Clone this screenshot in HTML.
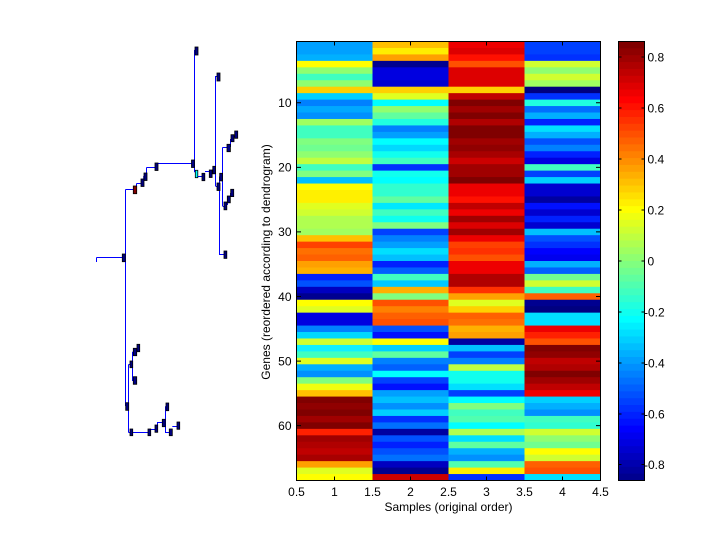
<!DOCTYPE html>
<html><head><meta charset="utf-8"><style>
html,body{margin:0;padding:0;background:#fff;}
svg{display:block;}
text{font-family:"Liberation Sans",Arial,sans-serif;font-size:12px;fill:#000;}
</style></head><body>
<svg width="720" height="540" viewBox="0 0 720 540" xmlns="http://www.w3.org/2000/svg">
<rect width="720" height="540" fill="#fff"/>

<!-- Heatmap -->
<svg x="296.5" y="41.5" width="304" height="439" viewBox="0 0 4 68" preserveAspectRatio="none">
<g id="c1">
<rect x="0" y="0" width="1.1" height="1.1" fill="#00a0ff"/>
<rect x="0" y="1" width="1.1" height="1.1" fill="#00a0ff"/>
<rect x="0" y="2" width="1.1" height="1.1" fill="#00b0ff"/>
<rect x="0" y="3" width="1.1" height="1.1" fill="#ffff00"/>
<rect x="0" y="4" width="1.1" height="1.1" fill="#90ff70"/>
<rect x="0" y="5" width="1.1" height="1.1" fill="#40ffc0"/>
<rect x="0" y="6" width="1.1" height="1.1" fill="#90ff70"/>
<rect x="0" y="7" width="1.1" height="1.1" fill="#ffd000"/>
<rect x="0" y="8" width="1.1" height="1.1" fill="#00d0ff"/>
<rect x="0" y="9" width="1.1" height="1.1" fill="#0080ff"/>
<rect x="0" y="10" width="1.1" height="1.1" fill="#00a8ff"/>
<rect x="0" y="11" width="1.1" height="1.1" fill="#0090ff"/>
<rect x="0" y="12" width="1.1" height="1.1" fill="#a0ff60"/>
<rect x="0" y="13" width="1.1" height="1.1" fill="#40ffc0"/>
<rect x="0" y="14" width="1.1" height="1.1" fill="#40ffc0"/>
<rect x="0" y="15" width="1.1" height="1.1" fill="#80ff80"/>
<rect x="0" y="16" width="1.1" height="1.1" fill="#70ff90"/>
<rect x="0" y="17" width="1.1" height="1.1" fill="#90ff70"/>
<rect x="0" y="18" width="1.1" height="1.1" fill="#c0ff40"/>
<rect x="0" y="19" width="1.1" height="1.1" fill="#40ffc0"/>
<rect x="0" y="20" width="1.1" height="1.1" fill="#80ff80"/>
<rect x="0" y="21" width="1.1" height="1.1" fill="#00c0ff"/>
<rect x="0" y="22" width="1.1" height="1.1" fill="#ffff00"/>
<rect x="0" y="23" width="1.1" height="1.1" fill="#fff000"/>
<rect x="0" y="24" width="1.1" height="1.1" fill="#fff000"/>
<rect x="0" y="25" width="1.1" height="1.1" fill="#e0ff20"/>
<rect x="0" y="26" width="1.1" height="1.1" fill="#d0ff30"/>
<rect x="0" y="27" width="1.1" height="1.1" fill="#b0ff50"/>
<rect x="0" y="28" width="1.1" height="1.1" fill="#b0ff50"/>
<rect x="0" y="29" width="1.1" height="1.1" fill="#a0ff60"/>
<rect x="0" y="30" width="1.1" height="1.1" fill="#ffc000"/>
<rect x="0" y="31" width="1.1" height="1.1" fill="#ff4000"/>
<rect x="0" y="32" width="1.1" height="1.1" fill="#ff7000"/>
<rect x="0" y="33" width="1.1" height="1.1" fill="#ff6000"/>
<rect x="0" y="34" width="1.1" height="1.1" fill="#ffa000"/>
<rect x="0" y="35" width="1.1" height="1.1" fill="#ffb000"/>
<rect x="0" y="36" width="1.1" height="1.1" fill="#0020ff"/>
<rect x="0" y="37" width="1.1" height="1.1" fill="#0050ff"/>
<rect x="0" y="38" width="1.1" height="1.1" fill="#0000c0"/>
<rect x="0" y="39" width="1.1" height="1.1" fill="#000090"/>
<rect x="0" y="40" width="1.1" height="1.1" fill="#ffff00"/>
<rect x="0" y="41" width="1.1" height="1.1" fill="#e0ff20"/>
<rect x="0" y="42" width="1.1" height="1.1" fill="#0000e0"/>
<rect x="0" y="43" width="1.1" height="1.1" fill="#0000e0"/>
<rect x="0" y="44" width="1.1" height="1.1" fill="#0080ff"/>
<rect x="0" y="45" width="1.1" height="1.1" fill="#00d8ff"/>
<rect x="0" y="46" width="1.1" height="1.1" fill="#d0ff30"/>
<rect x="0" y="47" width="1.1" height="1.1" fill="#10f0ff"/>
<rect x="0" y="48" width="1.1" height="1.1" fill="#40ffc0"/>
<rect x="0" y="49" width="1.1" height="1.1" fill="#e0ff20"/>
<rect x="0" y="50" width="1.1" height="1.1" fill="#00b0ff"/>
<rect x="0" y="51" width="1.1" height="1.1" fill="#0090ff"/>
<rect x="0" y="52" width="1.1" height="1.1" fill="#80ff80"/>
<rect x="0" y="53" width="1.1" height="1.1" fill="#f0ff10"/>
<rect x="0" y="54" width="1.1" height="1.1" fill="#ffc000"/>
<rect x="0" y="55" width="1.1" height="1.1" fill="#800000"/>
<rect x="0" y="56" width="1.1" height="1.1" fill="#900000"/>
<rect x="0" y="57" width="1.1" height="1.1" fill="#800000"/>
<rect x="0" y="58" width="1.1" height="1.1" fill="#a00000"/>
<rect x="0" y="59" width="1.1" height="1.1" fill="#800000"/>
<rect x="0" y="60" width="1.1" height="1.1" fill="#ff2000"/>
<rect x="0" y="61" width="1.1" height="1.1" fill="#a00000"/>
<rect x="0" y="62" width="1.1" height="1.1" fill="#b00000"/>
<rect x="0" y="63" width="1.1" height="1.1" fill="#c00000"/>
<rect x="0" y="64" width="1.1" height="1.1" fill="#a80000"/>
<rect x="0" y="65" width="1.1" height="1.1" fill="#ffa000"/>
<rect x="0" y="66" width="1.1" height="1.1" fill="#e0ff20"/>
<rect x="0" y="67" width="1.1" height="1.1" fill="#ffff00"/>
</g>
<g id="c2">
<rect x="1" y="0" width="1.1" height="1.1" fill="#ffc000"/>
<rect x="1" y="1" width="1.1" height="1.1" fill="#ffee00"/>
<rect x="1" y="2" width="1.1" height="1.1" fill="#ffa000"/>
<rect x="1" y="3" width="1.1" height="1.1" fill="#000090"/>
<rect x="1" y="4" width="1.1" height="1.1" fill="#0000e0"/>
<rect x="1" y="5" width="1.1" height="1.1" fill="#0000e0"/>
<rect x="1" y="6" width="1.1" height="1.1" fill="#0000d0"/>
<rect x="1" y="7" width="1.1" height="1.1" fill="#ffd000"/>
<rect x="1" y="8" width="1.1" height="1.1" fill="#e0ff20"/>
<rect x="1" y="9" width="1.1" height="1.1" fill="#00ffff"/>
<rect x="1" y="10" width="1.1" height="1.1" fill="#90ff70"/>
<rect x="1" y="11" width="1.1" height="1.1" fill="#60ffa0"/>
<rect x="1" y="12" width="1.1" height="1.1" fill="#20ffe0"/>
<rect x="1" y="13" width="1.1" height="1.1" fill="#0080ff"/>
<rect x="1" y="14" width="1.1" height="1.1" fill="#00a0ff"/>
<rect x="1" y="15" width="1.1" height="1.1" fill="#00ffff"/>
<rect x="1" y="16" width="1.1" height="1.1" fill="#00d8ff"/>
<rect x="1" y="17" width="1.1" height="1.1" fill="#10ffee"/>
<rect x="1" y="18" width="1.1" height="1.1" fill="#40ffc0"/>
<rect x="1" y="19" width="1.1" height="1.1" fill="#0030ff"/>
<rect x="1" y="20" width="1.1" height="1.1" fill="#10ffee"/>
<rect x="1" y="21" width="1.1" height="1.1" fill="#00ffff"/>
<rect x="1" y="22" width="1.1" height="1.1" fill="#30ffd0"/>
<rect x="1" y="23" width="1.1" height="1.1" fill="#30ffd0"/>
<rect x="1" y="24" width="1.1" height="1.1" fill="#60ffa0"/>
<rect x="1" y="25" width="1.1" height="1.1" fill="#00e8ff"/>
<rect x="1" y="26" width="1.1" height="1.1" fill="#40ffc0"/>
<rect x="1" y="27" width="1.1" height="1.1" fill="#10ffee"/>
<rect x="1" y="28" width="1.1" height="1.1" fill="#80ff80"/>
<rect x="1" y="29" width="1.1" height="1.1" fill="#0040ff"/>
<rect x="1" y="30" width="1.1" height="1.1" fill="#0080ff"/>
<rect x="1" y="31" width="1.1" height="1.1" fill="#00a0ff"/>
<rect x="1" y="32" width="1.1" height="1.1" fill="#00e0ff"/>
<rect x="1" y="33" width="1.1" height="1.1" fill="#00c0ff"/>
<rect x="1" y="34" width="1.1" height="1.1" fill="#0020ff"/>
<rect x="1" y="35" width="1.1" height="1.1" fill="#0060ff"/>
<rect x="1" y="36" width="1.1" height="1.1" fill="#40ffc0"/>
<rect x="1" y="37" width="1.1" height="1.1" fill="#00c8ff"/>
<rect x="1" y="38" width="1.1" height="1.1" fill="#ffb000"/>
<rect x="1" y="39" width="1.1" height="1.1" fill="#80ff80"/>
<rect x="1" y="40" width="1.1" height="1.1" fill="#ff5000"/>
<rect x="1" y="41" width="1.1" height="1.1" fill="#ff8000"/>
<rect x="1" y="42" width="1.1" height="1.1" fill="#ff6000"/>
<rect x="1" y="43" width="1.1" height="1.1" fill="#ff5000"/>
<rect x="1" y="44" width="1.1" height="1.1" fill="#0050ff"/>
<rect x="1" y="45" width="1.1" height="1.1" fill="#0010ff"/>
<rect x="1" y="46" width="1.1" height="1.1" fill="#ffff00"/>
<rect x="1" y="47" width="1.1" height="1.1" fill="#00d0ff"/>
<rect x="1" y="48" width="1.1" height="1.1" fill="#60ffa0"/>
<rect x="1" y="49" width="1.1" height="1.1" fill="#0080ff"/>
<rect x="1" y="50" width="1.1" height="1.1" fill="#0060ff"/>
<rect x="1" y="51" width="1.1" height="1.1" fill="#00ffff"/>
<rect x="1" y="52" width="1.1" height="1.1" fill="#0040ff"/>
<rect x="1" y="53" width="1.1" height="1.1" fill="#0010ff"/>
<rect x="1" y="54" width="1.1" height="1.1" fill="#00a0ff"/>
<rect x="1" y="55" width="1.1" height="1.1" fill="#00c0ff"/>
<rect x="1" y="56" width="1.1" height="1.1" fill="#0090ff"/>
<rect x="1" y="57" width="1.1" height="1.1" fill="#00d0ff"/>
<rect x="1" y="58" width="1.1" height="1.1" fill="#0030ff"/>
<rect x="1" y="59" width="1.1" height="1.1" fill="#0070ff"/>
<rect x="1" y="60" width="1.1" height="1.1" fill="#0000a0"/>
<rect x="1" y="61" width="1.1" height="1.1" fill="#0050ff"/>
<rect x="1" y="62" width="1.1" height="1.1" fill="#0020ff"/>
<rect x="1" y="63" width="1.1" height="1.1" fill="#0050ff"/>
<rect x="1" y="64" width="1.1" height="1.1" fill="#0070ff"/>
<rect x="1" y="65" width="1.1" height="1.1" fill="#0000c0"/>
<rect x="1" y="66" width="1.1" height="1.1" fill="#000090"/>
<rect x="1" y="67" width="1.1" height="1.1" fill="#cc0000"/>
</g>
<g id="c3">
<rect x="2" y="0" width="1.1" height="1.1" fill="#ee0000"/>
<rect x="2" y="1" width="1.1" height="1.1" fill="#dd0000"/>
<rect x="2" y="2" width="1.1" height="1.1" fill="#ff1000"/>
<rect x="2" y="3" width="1.1" height="1.1" fill="#ff5000"/>
<rect x="2" y="4" width="1.1" height="1.1" fill="#dd0000"/>
<rect x="2" y="5" width="1.1" height="1.1" fill="#dd0000"/>
<rect x="2" y="6" width="1.1" height="1.1" fill="#dd0000"/>
<rect x="2" y="7" width="1.1" height="1.1" fill="#ffd000"/>
<rect x="2" y="8" width="1.1" height="1.1" fill="#c00000"/>
<rect x="2" y="9" width="1.1" height="1.1" fill="#800000"/>
<rect x="2" y="10" width="1.1" height="1.1" fill="#a00000"/>
<rect x="2" y="11" width="1.1" height="1.1" fill="#800000"/>
<rect x="2" y="12" width="1.1" height="1.1" fill="#b00000"/>
<rect x="2" y="13" width="1.1" height="1.1" fill="#800000"/>
<rect x="2" y="14" width="1.1" height="1.1" fill="#800000"/>
<rect x="2" y="15" width="1.1" height="1.1" fill="#a00000"/>
<rect x="2" y="16" width="1.1" height="1.1" fill="#900000"/>
<rect x="2" y="17" width="1.1" height="1.1" fill="#a80000"/>
<rect x="2" y="18" width="1.1" height="1.1" fill="#cc0000"/>
<rect x="2" y="19" width="1.1" height="1.1" fill="#a00000"/>
<rect x="2" y="20" width="1.1" height="1.1" fill="#a00000"/>
<rect x="2" y="21" width="1.1" height="1.1" fill="#800000"/>
<rect x="2" y="22" width="1.1" height="1.1" fill="#ee0000"/>
<rect x="2" y="23" width="1.1" height="1.1" fill="#ee0000"/>
<rect x="2" y="24" width="1.1" height="1.1" fill="#ff1000"/>
<rect x="2" y="25" width="1.1" height="1.1" fill="#c00000"/>
<rect x="2" y="26" width="1.1" height="1.1" fill="#ee0000"/>
<rect x="2" y="27" width="1.1" height="1.1" fill="#a00000"/>
<rect x="2" y="28" width="1.1" height="1.1" fill="#dd0000"/>
<rect x="2" y="29" width="1.1" height="1.1" fill="#a00000"/>
<rect x="2" y="30" width="1.1" height="1.1" fill="#ee0000"/>
<rect x="2" y="31" width="1.1" height="1.1" fill="#ff4000"/>
<rect x="2" y="32" width="1.1" height="1.1" fill="#ff3000"/>
<rect x="2" y="33" width="1.1" height="1.1" fill="#ff5000"/>
<rect x="2" y="34" width="1.1" height="1.1" fill="#ee0000"/>
<rect x="2" y="35" width="1.1" height="1.1" fill="#ee0000"/>
<rect x="2" y="36" width="1.1" height="1.1" fill="#b00000"/>
<rect x="2" y="37" width="1.1" height="1.1" fill="#b00000"/>
<rect x="2" y="38" width="1.1" height="1.1" fill="#ff3000"/>
<rect x="2" y="39" width="1.1" height="1.1" fill="#ffa000"/>
<rect x="2" y="40" width="1.1" height="1.1" fill="#e0ff20"/>
<rect x="2" y="41" width="1.1" height="1.1" fill="#ffd000"/>
<rect x="2" y="42" width="1.1" height="1.1" fill="#ff6000"/>
<rect x="2" y="43" width="1.1" height="1.1" fill="#ff7000"/>
<rect x="2" y="44" width="1.1" height="1.1" fill="#ffb000"/>
<rect x="2" y="45" width="1.1" height="1.1" fill="#ffa000"/>
<rect x="2" y="46" width="1.1" height="1.1" fill="#0000a0"/>
<rect x="2" y="47" width="1.1" height="1.1" fill="#00c0ff"/>
<rect x="2" y="48" width="1.1" height="1.1" fill="#0040ff"/>
<rect x="2" y="49" width="1.1" height="1.1" fill="#0080ff"/>
<rect x="2" y="50" width="1.1" height="1.1" fill="#c0ff40"/>
<rect x="2" y="51" width="1.1" height="1.1" fill="#10ffee"/>
<rect x="2" y="52" width="1.1" height="1.1" fill="#10ffee"/>
<rect x="2" y="53" width="1.1" height="1.1" fill="#00e0ff"/>
<rect x="2" y="54" width="1.1" height="1.1" fill="#0040ff"/>
<rect x="2" y="55" width="1.1" height="1.1" fill="#00ffff"/>
<rect x="2" y="56" width="1.1" height="1.1" fill="#80ff80"/>
<rect x="2" y="57" width="1.1" height="1.1" fill="#40ffc0"/>
<rect x="2" y="58" width="1.1" height="1.1" fill="#50ffb0"/>
<rect x="2" y="59" width="1.1" height="1.1" fill="#00ffff"/>
<rect x="2" y="60" width="1.1" height="1.1" fill="#b0ff50"/>
<rect x="2" y="61" width="1.1" height="1.1" fill="#00e0ff"/>
<rect x="2" y="62" width="1.1" height="1.1" fill="#60ffa0"/>
<rect x="2" y="63" width="1.1" height="1.1" fill="#00b0ff"/>
<rect x="2" y="64" width="1.1" height="1.1" fill="#0090ff"/>
<rect x="2" y="65" width="1.1" height="1.1" fill="#50ffb0"/>
<rect x="2" y="66" width="1.1" height="1.1" fill="#ffee00"/>
<rect x="2" y="67" width="1.1" height="1.1" fill="#0030ff"/>
</g>
<g id="c4">
<rect x="3" y="0" width="1.1" height="1.1" fill="#0040ff"/>
<rect x="3" y="1" width="1.1" height="1.1" fill="#0040ff"/>
<rect x="3" y="2" width="1.1" height="1.1" fill="#0030ff"/>
<rect x="3" y="3" width="1.1" height="1.1" fill="#d0ff30"/>
<rect x="3" y="4" width="1.1" height="1.1" fill="#90ff70"/>
<rect x="3" y="5" width="1.1" height="1.1" fill="#d0ff30"/>
<rect x="3" y="6" width="1.1" height="1.1" fill="#a0ff60"/>
<rect x="3" y="7" width="1.1" height="1.1" fill="#000080"/>
<rect x="3" y="8" width="1.1" height="1.1" fill="#0030ff"/>
<rect x="3" y="9" width="1.1" height="1.1" fill="#20ffe0"/>
<rect x="3" y="10" width="1.1" height="1.1" fill="#0070ff"/>
<rect x="3" y="11" width="1.1" height="1.1" fill="#00b0ff"/>
<rect x="3" y="12" width="1.1" height="1.1" fill="#0020ff"/>
<rect x="3" y="13" width="1.1" height="1.1" fill="#00e0ff"/>
<rect x="3" y="14" width="1.1" height="1.1" fill="#00b0ff"/>
<rect x="3" y="15" width="1.1" height="1.1" fill="#0050ff"/>
<rect x="3" y="16" width="1.1" height="1.1" fill="#0080ff"/>
<rect x="3" y="17" width="1.1" height="1.1" fill="#0020ff"/>
<rect x="3" y="18" width="1.1" height="1.1" fill="#0000e0"/>
<rect x="3" y="19" width="1.1" height="1.1" fill="#40ffc0"/>
<rect x="3" y="20" width="1.1" height="1.1" fill="#0040ff"/>
<rect x="3" y="21" width="1.1" height="1.1" fill="#00d0ff"/>
<rect x="3" y="22" width="1.1" height="1.1" fill="#0000d0"/>
<rect x="3" y="23" width="1.1" height="1.1" fill="#0000d0"/>
<rect x="3" y="24" width="1.1" height="1.1" fill="#0000a0"/>
<rect x="3" y="25" width="1.1" height="1.1" fill="#0010ff"/>
<rect x="3" y="26" width="1.1" height="1.1" fill="#0000d0"/>
<rect x="3" y="27" width="1.1" height="1.1" fill="#0020ff"/>
<rect x="3" y="28" width="1.1" height="1.1" fill="#0000d0"/>
<rect x="3" y="29" width="1.1" height="1.1" fill="#00c0ff"/>
<rect x="3" y="30" width="1.1" height="1.1" fill="#0050ff"/>
<rect x="3" y="31" width="1.1" height="1.1" fill="#0030ff"/>
<rect x="3" y="32" width="1.1" height="1.1" fill="#0000ff"/>
<rect x="3" y="33" width="1.1" height="1.1" fill="#0000ee"/>
<rect x="3" y="34" width="1.1" height="1.1" fill="#00b0ff"/>
<rect x="3" y="35" width="1.1" height="1.1" fill="#0060ff"/>
<rect x="3" y="36" width="1.1" height="1.1" fill="#70ff90"/>
<rect x="3" y="37" width="1.1" height="1.1" fill="#d0ff30"/>
<rect x="3" y="38" width="1.1" height="1.1" fill="#40ffc0"/>
<rect x="3" y="39" width="1.1" height="1.1" fill="#ff6000"/>
<rect x="3" y="40" width="1.1" height="1.1" fill="#000090"/>
<rect x="3" y="41" width="1.1" height="1.1" fill="#000080"/>
<rect x="3" y="42" width="1.1" height="1.1" fill="#00e0ff"/>
<rect x="3" y="43" width="1.1" height="1.1" fill="#00e0ff"/>
<rect x="3" y="44" width="1.1" height="1.1" fill="#ee0000"/>
<rect x="3" y="45" width="1.1" height="1.1" fill="#ff2000"/>
<rect x="3" y="46" width="1.1" height="1.1" fill="#ff5000"/>
<rect x="3" y="47" width="1.1" height="1.1" fill="#800000"/>
<rect x="3" y="48" width="1.1" height="1.1" fill="#900000"/>
<rect x="3" y="49" width="1.1" height="1.1" fill="#c00000"/>
<rect x="3" y="50" width="1.1" height="1.1" fill="#b00000"/>
<rect x="3" y="51" width="1.1" height="1.1" fill="#800000"/>
<rect x="3" y="52" width="1.1" height="1.1" fill="#a00000"/>
<rect x="3" y="53" width="1.1" height="1.1" fill="#c00000"/>
<rect x="3" y="54" width="1.1" height="1.1" fill="#ee0000"/>
<rect x="3" y="55" width="1.1" height="1.1" fill="#00d0ff"/>
<rect x="3" y="56" width="1.1" height="1.1" fill="#00b0ff"/>
<rect x="3" y="57" width="1.1" height="1.1" fill="#0090ff"/>
<rect x="3" y="58" width="1.1" height="1.1" fill="#40ffc0"/>
<rect x="3" y="59" width="1.1" height="1.1" fill="#30ffd0"/>
<rect x="3" y="60" width="1.1" height="1.1" fill="#d0ff30"/>
<rect x="3" y="61" width="1.1" height="1.1" fill="#90ff70"/>
<rect x="3" y="62" width="1.1" height="1.1" fill="#70ff90"/>
<rect x="3" y="63" width="1.1" height="1.1" fill="#ffff00"/>
<rect x="3" y="64" width="1.1" height="1.1" fill="#d0ff30"/>
<rect x="3" y="65" width="1.1" height="1.1" fill="#ff6000"/>
<rect x="3" y="66" width="1.1" height="1.1" fill="#ff5000"/>
<rect x="3" y="67" width="1.1" height="1.1" fill="#00e0ff"/>
</g>
</svg>

<!-- Heatmap axes -->
<g stroke="#000" stroke-width="1" fill="none">
<rect x="296.5" y="41.5" width="304" height="439"/>
<path d="M334.5,480.5V476.5M410.5,480.5V476.5M486.5,480.5V476.5M562.5,480.5V476.5
M334.5,41.5V45.5M410.5,41.5V45.5M486.5,41.5V45.5M562.5,41.5V45.5
M296.5,102.8H301M296.5,167.4H301M296.5,231.9H301M296.5,296.5H301M296.5,361.1H301M296.5,425.6H301
M600.5,102.8H596M600.5,167.4H596M600.5,231.9H596M600.5,296.5H596M600.5,361.1H596M600.5,425.6H596"/>
</g>
<g text-anchor="end">
<text x="291.5" y="107.1">10</text>
<text x="291.5" y="171.7">20</text>
<text x="291.5" y="236.2">30</text>
<text x="291.5" y="300.8">40</text>
<text x="291.5" y="365.4">50</text>
<text x="291.5" y="429.9">60</text>
</g>
<g text-anchor="middle">
<text x="296.5" y="496">0.5</text>
<text x="334.5" y="496">1</text>
<text x="372.5" y="496">1.5</text>
<text x="410.5" y="496">2</text>
<text x="448.5" y="496">2.5</text>
<text x="486.5" y="496">3</text>
<text x="524.5" y="496">3.5</text>
<text x="562.5" y="496">4</text>
<text x="600.5" y="496">4.5</text>
<text x="448.5" y="511">Samples (original order)</text>
<text transform="translate(270,262) rotate(-90)">Genes (reordered according to dendrogram)</text>
</g>

<!-- Colorbar -->
<svg x="618.5" y="41.5" width="26" height="439" viewBox="0 0 1 64" preserveAspectRatio="none">
<rect x="0" y="0" width="1" height="1.1" fill="#800000"/>
<rect x="0" y="1" width="1" height="1.1" fill="#8f0000"/>
<rect x="0" y="2" width="1" height="1.1" fill="#9f0000"/>
<rect x="0" y="3" width="1" height="1.1" fill="#af0000"/>
<rect x="0" y="4" width="1" height="1.1" fill="#bf0000"/>
<rect x="0" y="5" width="1" height="1.1" fill="#cf0000"/>
<rect x="0" y="6" width="1" height="1.1" fill="#df0000"/>
<rect x="0" y="7" width="1" height="1.1" fill="#ef0000"/>
<rect x="0" y="8" width="1" height="1.1" fill="#ff0000"/>
<rect x="0" y="9" width="1" height="1.1" fill="#ff1000"/>
<rect x="0" y="10" width="1" height="1.1" fill="#ff2000"/>
<rect x="0" y="11" width="1" height="1.1" fill="#ff3000"/>
<rect x="0" y="12" width="1" height="1.1" fill="#ff4000"/>
<rect x="0" y="13" width="1" height="1.1" fill="#ff5000"/>
<rect x="0" y="14" width="1" height="1.1" fill="#ff6000"/>
<rect x="0" y="15" width="1" height="1.1" fill="#ff7000"/>
<rect x="0" y="16" width="1" height="1.1" fill="#ff8000"/>
<rect x="0" y="17" width="1" height="1.1" fill="#ff8f00"/>
<rect x="0" y="18" width="1" height="1.1" fill="#ff9f00"/>
<rect x="0" y="19" width="1" height="1.1" fill="#ffaf00"/>
<rect x="0" y="20" width="1" height="1.1" fill="#ffbf00"/>
<rect x="0" y="21" width="1" height="1.1" fill="#ffcf00"/>
<rect x="0" y="22" width="1" height="1.1" fill="#ffdf00"/>
<rect x="0" y="23" width="1" height="1.1" fill="#ffef00"/>
<rect x="0" y="24" width="1" height="1.1" fill="#ffff00"/>
<rect x="0" y="25" width="1" height="1.1" fill="#efff10"/>
<rect x="0" y="26" width="1" height="1.1" fill="#dfff20"/>
<rect x="0" y="27" width="1" height="1.1" fill="#cfff30"/>
<rect x="0" y="28" width="1" height="1.1" fill="#bfff40"/>
<rect x="0" y="29" width="1" height="1.1" fill="#afff50"/>
<rect x="0" y="30" width="1" height="1.1" fill="#9fff60"/>
<rect x="0" y="31" width="1" height="1.1" fill="#8fff70"/>
<rect x="0" y="32" width="1" height="1.1" fill="#80ff80"/>
<rect x="0" y="33" width="1" height="1.1" fill="#70ff8f"/>
<rect x="0" y="34" width="1" height="1.1" fill="#60ff9f"/>
<rect x="0" y="35" width="1" height="1.1" fill="#50ffaf"/>
<rect x="0" y="36" width="1" height="1.1" fill="#40ffbf"/>
<rect x="0" y="37" width="1" height="1.1" fill="#30ffcf"/>
<rect x="0" y="38" width="1" height="1.1" fill="#20ffdf"/>
<rect x="0" y="39" width="1" height="1.1" fill="#10ffef"/>
<rect x="0" y="40" width="1" height="1.1" fill="#00ffff"/>
<rect x="0" y="41" width="1" height="1.1" fill="#00efff"/>
<rect x="0" y="42" width="1" height="1.1" fill="#00dfff"/>
<rect x="0" y="43" width="1" height="1.1" fill="#00cfff"/>
<rect x="0" y="44" width="1" height="1.1" fill="#00bfff"/>
<rect x="0" y="45" width="1" height="1.1" fill="#00afff"/>
<rect x="0" y="46" width="1" height="1.1" fill="#009fff"/>
<rect x="0" y="47" width="1" height="1.1" fill="#008fff"/>
<rect x="0" y="48" width="1" height="1.1" fill="#0080ff"/>
<rect x="0" y="49" width="1" height="1.1" fill="#0070ff"/>
<rect x="0" y="50" width="1" height="1.1" fill="#0060ff"/>
<rect x="0" y="51" width="1" height="1.1" fill="#0050ff"/>
<rect x="0" y="52" width="1" height="1.1" fill="#0040ff"/>
<rect x="0" y="53" width="1" height="1.1" fill="#0030ff"/>
<rect x="0" y="54" width="1" height="1.1" fill="#0020ff"/>
<rect x="0" y="55" width="1" height="1.1" fill="#0010ff"/>
<rect x="0" y="56" width="1" height="1.1" fill="#0000ff"/>
<rect x="0" y="57" width="1" height="1.1" fill="#0000ef"/>
<rect x="0" y="58" width="1" height="1.1" fill="#0000df"/>
<rect x="0" y="59" width="1" height="1.1" fill="#0000cf"/>
<rect x="0" y="60" width="1" height="1.1" fill="#0000bf"/>
<rect x="0" y="61" width="1" height="1.1" fill="#0000af"/>
<rect x="0" y="62" width="1" height="1.1" fill="#00009f"/>
<rect x="0" y="63" width="1" height="1.1" fill="#00008f"/>
</svg>
<g stroke="#000" stroke-width="1" fill="none">
<rect x="618.5" y="41.5" width="26" height="439"/>
<path d="M618.5,57H621.5M618.5,108H621.5M618.5,159H621.5M618.5,210H621.5M618.5,261H621.5M618.5,312H621.5M618.5,363H621.5M618.5,414H621.5M618.5,464.5H621.5
M644.5,57H641.5M644.5,108H641.5M644.5,159H641.5M644.5,210H641.5M644.5,261H641.5M644.5,312H641.5M644.5,363H641.5M644.5,414H641.5M644.5,464.5H641.5"/>
</g>
<text x="647.5" y="61.3">0.8</text>
<text x="647.5" y="112.3">0.6</text>
<text x="647.5" y="163.3">0.4</text>
<text x="647.5" y="214.3">0.2</text>
<text x="647.5" y="265.3">0</text>
<text x="644" y="316.3">-0.2</text>
<text x="644" y="367.3">-0.4</text>
<text x="644" y="418.3">-0.6</text>
<text x="644" y="468.8">-0.8</text>

<!-- Dendrogram lines -->
<g stroke="#0000ff" stroke-width="1" fill="none">
<path d="M194.5,50V172M194.5,50H195.5"/>
<path d="M215.5,76V186M215.5,76.5H217M215.5,186.5H217"/>
<path d="M156,163.5H192"/>
<path d="M146.5,167.5H155M146.5,167.5V175M143.7,176V180"/>
<path d="M136.5,183.5H141M136.5,183.5V189.5"/>
<path d="M125.5,189.5H133.3M125.5,189.5V406"/>
<path d="M96.5,257.5H122.3M96.5,257.5V262"/>
<path d="M194.5,172H196M197.7,176.5H202M205,171.5H209.3M212,170H213"/>
<path d="M219.5,176.5V254.5H224"/>
<path d="M222.5,147.5V206M222.5,147.5H227M222.5,206.5H224"/>
<path d="M227.5,205V198M230.5,197V193"/>
<path d="M230.5,147V139M234,136.5H235"/>
<path d="M128.5,364.5V432.5M128.5,364.5H130"/>
<path d="M132.5,351.7V380.5H133.3"/>
<path d="M128.5,432.5H149.3"/>
<path d="M150.7,429.5H155.7"/>
<path d="M157.5,429V422.5H162.3"/>
<path d="M165.5,406.3V432.5H169.3"/>
<path d="M172.3,426.5H177"/>
</g>
<!-- Dendrogram markers -->
<g stroke="#000" stroke-width="0.8" fill="#000080">
<rect x="195" y="47" width="3" height="8"/>
<rect x="217" y="73" width="3" height="8"/>
<rect x="217" y="183" width="3" height="7.5"/>
<rect x="191.5" y="160" width="3" height="7.5"/>
<rect x="155" y="163" width="3" height="7.5"/>
<rect x="144" y="173" width="3" height="7.5"/>
<rect x="141" y="179" width="3" height="7.5"/>
<rect x="133.3" y="186" width="3.4" height="7.7" fill="#800000"/>
<rect x="122.3" y="254" width="3" height="7.7"/>
<rect x="195.3" y="170.3" width="2.5" height="7.4" fill="#00ffff"/>
<rect x="202" y="173.3" width="2.8" height="7.4"/>
<rect x="209.3" y="170" width="2.8" height="7.5"/>
<rect x="212.8" y="166.3" width="2.8" height="7.5"/>
<rect x="219.7" y="173.3" width="2.9" height="7.6"/>
<rect x="224" y="251" width="2.8" height="7.4"/>
<rect x="227" y="144.3" width="3.4" height="7.4"/>
<rect x="224" y="202" width="2.8" height="7.8"/>
<rect x="227.3" y="196" width="3" height="6.8"/>
<rect x="230.7" y="189.3" width="3" height="7.3"/>
<rect x="231" y="134.7" width="3" height="7"/>
<rect x="234.7" y="131" width="3" height="7.3"/>
<rect x="125.7" y="402.7" width="3" height="7.6"/>
<rect x="130" y="361" width="2.7" height="6.7"/>
<rect x="133.3" y="376.7" width="3.4" height="7.6"/>
<rect x="133.3" y="348.3" width="3.4" height="7.4"/>
<rect x="137" y="344.3" width="2.7" height="7.4"/>
<rect x="130" y="429" width="2.7" height="6.7"/>
<rect x="148" y="429" width="2.7" height="6.7"/>
<rect x="155" y="425" width="2.7" height="7.3"/>
<rect x="162.3" y="419.3" width="3" height="7.4"/>
<rect x="166" y="403" width="2.7" height="7.7"/>
<rect x="169.3" y="429" width="3" height="6.7"/>
<rect x="177" y="422" width="2.7" height="7.3"/>
</g>
</svg>
</body></html>
